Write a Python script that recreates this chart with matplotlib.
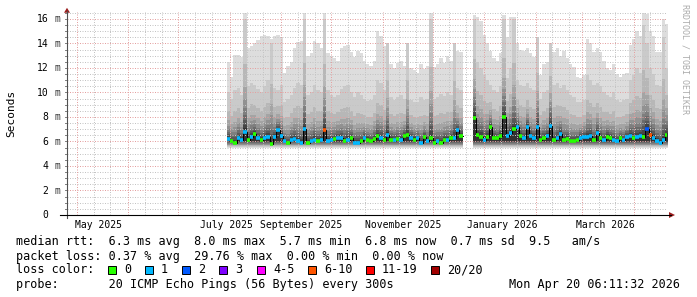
import datetime as dt
import numpy as np
import matplotlib
matplotlib.use('Agg')
import matplotlib.pyplot as plt
from matplotlib.patches import Rectangle, Polygon
from matplotlib.lines import Line2D
from matplotlib.transforms import offset_copy

# time frame of the graph (one year, daily consolidation shown as 2-day steps)
start = dt.date(2025, 4, 25)
span_days = 361
first_day = 96
step_days = 2

# median rtt per step (ms), nan = no data
median_ms = [
    6.2, 6.0, 5.9, 6.3, 6.15, 6.8, 6.15, 6.4, 6.6, 6.3,
    6.15, 6.3, 6.4, 5.8, 6.35, 6.9, 6.45, 6.0, 5.85, 6.15,
    6.2, 6.0, 5.9, 7.0, 5.9, 6.0, 6.15, 6.0, 6.15, 6.9,
    6.0, 6.15, 6.2, 6.3, 6.25, 6.0, 6.15, 6.25, 5.9, 5.9,
    6.0, 6.25, 6.15, 6.0, 6.2, 6.45, 6.3, 6.15, 6.55, 6.15,
    6.1, 6.2, 6.15, 6.45, 6.5, 6.3, 6.15, 6.25, 5.9, 6.35,
    6.0, 6.25, 5.9, 6.0, 5.9, 6.15, 6.1, 6.3, 6.3, 6.9,
    6.45, np.nan, np.nan, np.nan, 7.9, 6.5, 6.4, 6.15, 6.4, 7.2,
    6.3, 6.25, 6.45, 8.0, 6.45, 6.7, 7.0, 7.2, 6.45, 6.3,
    7.2, 6.45, 6.3, 7.2, 6.15, 6.3, 6.45, 7.3, 6.1, 6.3,
    6.6, 6.1, 6.2, 6.0, 6.0, 6.1, 6.3, 6.35, 6.35, 6.45,
    6.1, 6.7, 6.25, 6.1, 6.4, 6.3, 6.15, 6.0, 6.25, 6.1,
    6.35, 6.45, 6.3, 6.35, 6.45, 6.35, 7.0, 6.5, 6.3, 6.0,
    5.85, 6.1, 6.55,
]

# loss class per step (index into loss_colors)
loss_idx = [
    1, 0, 0, 1, 1, 1, 0, 1, 0, 1,
    0, 1, 1, 0, 1, 1, 1, 1, 0, 1,
    1, 1, 1, 1, 0, 1, 1, 0, 1, 5,
    1, 1, 0, 1, 1, 0, 1, 0, 1, 1,
    0, 1, 0, 0, 0, 0, 1, 0, 1, 0,
    1, 0, 1, 0, 0, 1, 0, 1, 1, 0,
    1, 0, 0, 1, 0, 0, 1, 0, 1, 1,
    0, 0, 0, 0, 0, 0, 0, 1, 0, 0,
    0, 0, 0, 0, 1, 1, 0, 1, 0, 1,
    1, 1, 1, 1, 0, 0, 1, 1, 0, 1,
    1, 0, 0, 0, 0, 0, 1, 1, 1, 1,
    0, 1, 0, 1, 0, 0, 1, 1, 0, 1,
    1, 1, 0, 1, 1, 0, 2, 5, 1, 1,
    1, 1, 0,
]

# slowest ping per step (top of the smoke, ms)
max_ms = [
    12.5, 11.3, 13.1, 13.1, 12.9, 16.5, 13.6, 13.8, 14.0, 14.3,
    14.6, 14.7, 14.6, 14.4, 14.6, 14.7, 14.5, 11.6, 12.2, 12.5,
    13.6, 14.1, 14.2, 16.5, 13.0, 13.2, 14.2, 14.0, 13.6, 16.5,
    13.2, 13.0, 12.8, 12.6, 13.6, 13.8, 13.9, 13.3, 12.9, 13.4,
    13.2, 12.6, 12.3, 12.2, 12.6, 15.0, 14.6, 13.8, 13.2, 12.3,
    12.0, 12.4, 12.6, 12.2, 12.6, 12.0, 11.8, 11.6, 12.3, 11.9,
    12.2, 16.5, 12.1, 12.3, 12.8, 12.4, 13.0, 12.6, 13.1, 13.4,
    13.3, np.nan, np.nan, np.nan, 16.3, 16.2, 15.8, 14.7, 14.0, 13.4,
    12.8, 12.6, 13.2, 16.3, 14.5, 16.2, 16.2, 14.0, 13.5, 13.4,
    13.6, 13.2, 12.9, 12.4, 11.4, 12.3, 12.5, 12.4, 13.3, 13.6,
    13.0, 13.4, 12.8, 12.3, 12.1, 11.3, 11.2, 11.4, 14.4, 14.0,
    13.3, 13.6, 13.3, 12.6, 12.0, 11.8, 12.3, 11.5, 11.3, 11.5,
    11.6, 13.9, 14.4, 15.0, 14.6, 16.5, 16.4, 15.0, 14.6, 13.3,
    13.3, 16.0, 15.6,
]

# second slowest ping per step (top of the medium grey smoke, ms)
p95_ms = [
    10.0, 9.5, 10.2, 10.4, 9.8, 16.0, 10.5, 10.8, 10.6, 10.3,
    10.0, 10.5, 11.0, 14.0, 10.4, 10.2, 10.6, 9.2, 9.5, 9.8,
    10.4, 10.8, 10.6, 16.0, 9.8, 10.0, 10.6, 10.2, 10.0, 16.0,
    10.2, 9.8, 9.6, 9.8, 10.3, 10.5, 10.6, 10.0, 9.6, 10.0,
    9.8, 9.5, 9.3, 9.4, 9.8, 11.0, 10.8, 10.2, 14.0, 9.6,
    9.4, 9.6, 9.8, 9.5, 14.0, 9.4, 9.2, 9.2, 9.6, 9.4,
    9.5, 16.0, 9.5, 9.6, 9.9, 9.7, 10.0, 9.8, 14.0, 10.4,
    10.2, np.nan, np.nan, np.nan, 16.0, 12.5, 12.0, 11.4, 11.0, 10.6,
    10.2, 10.0, 10.5, 16.0, 11.2, 12.0, 16.0, 11.0, 10.6, 10.5,
    10.8, 10.4, 10.2, 14.5, 9.5, 10.0, 10.2, 14.0, 10.6, 10.8,
    10.4, 10.6, 10.2, 9.8, 9.6, 9.2, 9.2, 9.4, 11.4, 11.0,
    10.6, 10.8, 10.5, 10.0, 9.8, 9.6, 10.0, 9.4, 9.2, 9.4,
    9.5, 11.0, 11.4, 12.0, 11.6, 15.5, 14.0, 12.0, 11.5, 10.6,
    10.5, 14.5, 12.0,
]

# typical spread of the fast pings and the middle ranks
low_ranks_ms = [5.45, 5.55, 5.62, 5.68, 5.74, 5.8, 5.86, 5.92, 5.98, 6.04]
mid_rank_frac = [0.03, 0.06, 0.1, 0.15, 0.21, 0.29, 0.4, 0.6]

loss_colors = ['#26ff00', '#00b8ff', '#0059ff', '#7e00ff',
               '#ff00ff', '#ff5500', '#ff0000', '#a10000']
loss_labels = ['0', '1', '2', '3', '4-5', '6-10', '11-19', '20/20']

month_labels = ['May 2025', 'July 2025', 'September 2025',
                'November 2025', 'January 2026', 'March 2026']
month_label_dates = [dt.date(2025, 5, 14), dt.date(2025, 7, 30), dt.date(2025, 9, 13),
                     dt.date(2025, 11, 13), dt.date(2026, 1, 12), dt.date(2026, 3, 15)]

legend_lines = [
    'median rtt:  6.3 ms avg  8.0 ms max  5.7 ms min  6.8 ms now  0.7 ms sd  9.5   am/s',
    'packet loss: 0.37 % avg  29.76 % max  0.00 % min  0.00 % now',
    'loss color:',
    'probe:       20 ICMP Echo Pings (56 Bytes) every 300s',
]
stamp = 'Mon Apr 20 06:11:32 2026'

W, H = 697, 297
MONO = 'DejaVu Sans Mono'
plt.rcParams['font.family'] = MONO


def fx(px):
    return px / W


def fy(py):
    return 1 - py / H


fig = plt.figure(figsize=(W / 100, H / 100), dpi=100)
fig.patch.set_facecolor('white')
ax = fig.add_axes([fx(67), fy(215), 600 / W, 203 / H])
ymax = 16.57
ax.set_xlim(0, span_days)
ax.set_ylim(0, ymax)
for s in ax.spines.values():
    s.set_visible(False)
ax.set_xticks([])
ax.set_yticks([])

med = np.array(median_ms, dtype=float)
top = np.array(max_ms, dtype=float)
upper = np.array(p95_ms, dtype=float)
n = len(med)
x = first_day + step_days * np.arange(n)

ranks = [np.minimum(lv, med) for lv in low_ranks_ms]
ranks += [med + f * (upper - med) for f in mid_rank_frac]
ranks += [upper, top]
greys = ['#%02x%02x%02x' % ((int(190 / 10 * (10 - i)) + 50,) * 3) for i in range(1, 11)]

# contiguous runs of data
valid = ~np.isnan(med)
runs = []
i = 0
while i < n:
    if valid[i]:
        j = i
        while j < n and valid[j]:
            j += 1
        runs.append((i, j))
        i = j
    else:
        i += 1

for a, b in runs:
    xs = np.append(x[a:b], x[b - 1] + step_days)
    for k in range(10):
        lo = np.append(ranks[k][a:b], ranks[k][b - 1])
        hi = np.append(ranks[19 - k][a:b], ranks[19 - k][b - 1])
        ax.fill_between(xs, lo, hi, step='post', color=greys[k], lw=0, zorder=1)
    mext = np.append(med[a:b], med[b - 1])
    ax.step(xs, mext, where='post', color='#000000', lw=0.7, zorder=3)
    ax.hlines(med[a:b], x[a:b], x[a:b] + step_days,
              colors=[loss_colors[l] for l in loss_idx[a:b]], lw=2.6, zorder=4)

# grid
grid_kw = dict(lw=0.72, linestyle=(0, (1, 1.5)), zorder=2)
for v in np.arange(0.5, ymax, 0.5):
    if v % 2:
        ax.axhline(v, color='#c4c4c4', **grid_kw)
for v in range(2, 17, 2):
    ax.axhline(v, color='#e4a0a0', **grid_kw)

month_starts = []
minor_days = []
y, m = 2025, 4
while True:
    for dday in (1, 11, 21):
        d = (dt.date(y, m, dday) - start).days
        if 0 < d < span_days:
            (month_starts if dday == 1 else minor_days).append(d)
    m += 1
    if m > 12:
        y, m = y + 1, 1
    if dt.date(y, m, 1) > start + dt.timedelta(days=span_days):
        break
for d in minor_days:
    ax.axvline(d, color='#c4c4c4', **grid_kw)
for d in month_starts:
    ax.axvline(d, color='#e4a0a0', **grid_kw)

# y tick labels
ytr = offset_copy(ax.get_yaxis_transform(), fig=fig, y=-2.5, units='points')
for v in range(0, 17, 2):
    ax.text((48.3 - 67) / 600, v, str(v), transform=ytr, ha='right', va='baseline',
            fontsize=7, family=MONO, color='#000000')
    if v:
        ax.text((54.2 - 67) / 600, v, 'm', transform=ytr, ha='left', va='baseline',
                fontsize=7, family=MONO, color='#333333')
for v in np.arange(0, ymax, 0.5):
    yy = fy(215 - v * 203 / ymax)
    fig.add_artist(Line2D([fx(64.5), fx(67)], [yy, yy], color='#808080', lw=0.7))

# x tick labels
for lab, d in zip(month_labels, month_label_dates):
    ax.text((d - start).days, (215 - 227.7) / 203, lab, transform=ax.get_xaxis_transform(),
            ha='center', va='baseline', fontsize=7, family=MONO)

# axes with arrows
fig.add_artist(Line2D([fx(67), fx(67)], [fy(218), fy(11)], color='#505050', lw=0.8))
fig.add_artist(Line2D([fx(60), fx(671)], [fy(215), fy(215)], color='#000000', lw=0.8))
fig.add_artist(Polygon([[fx(64), fy(12.7)], [fx(70), fy(12.7)], [fx(67), fy(7.8)]],
                       closed=True, transform=fig.transFigure, fc='#9b1c1c', ec='none'))
fig.add_artist(Polygon([[fx(669), fy(212)], [fx(669), fy(218)], [fx(675), fy(215)]],
                       closed=True, transform=fig.transFigure, fc='#9b1c1c', ec='none'))

fig.text(fx(11), fy(113.5), 'Seconds', rotation=90, ha='center', va='center',
         fontsize=8, family=MONO)
fig.text(fx(685.5), fy(59), 'RRDTOOL / TOBI OETIKER', rotation=270, ha='center',
         va='center', fontsize=6, family=MONO, color='#ababab')

# legend
line_y = [240.7, 255.7, 269.3, 284.0]
for txt, ly in zip(legend_lines, line_y):
    fig.text(fx(16), fy(ly + 4), txt, ha='left', va='baseline', fontsize=8.5, family=MONO)
fig.text(fx(680), fy(line_y[3] + 4), stamp, ha='right', va='baseline', fontsize=8.5, family=MONO)

box_x = [108, 145, 182, 219, 257, 308, 366, 431]
for bx, col, lab in zip(box_x, loss_colors, loss_labels):
    fig.add_artist(Rectangle((fx(bx), fy(273.5)), 8 / W, 8 / H, transform=fig.transFigure,
                             fc=col, ec='#000000', lw=0.7))
    fig.text(fx(bx + 16), fy(line_y[2] + 4), lab, ha='left', va='baseline',
             fontsize=8.5, family=MONO)

fig.savefig('out.png', dpi=100)
